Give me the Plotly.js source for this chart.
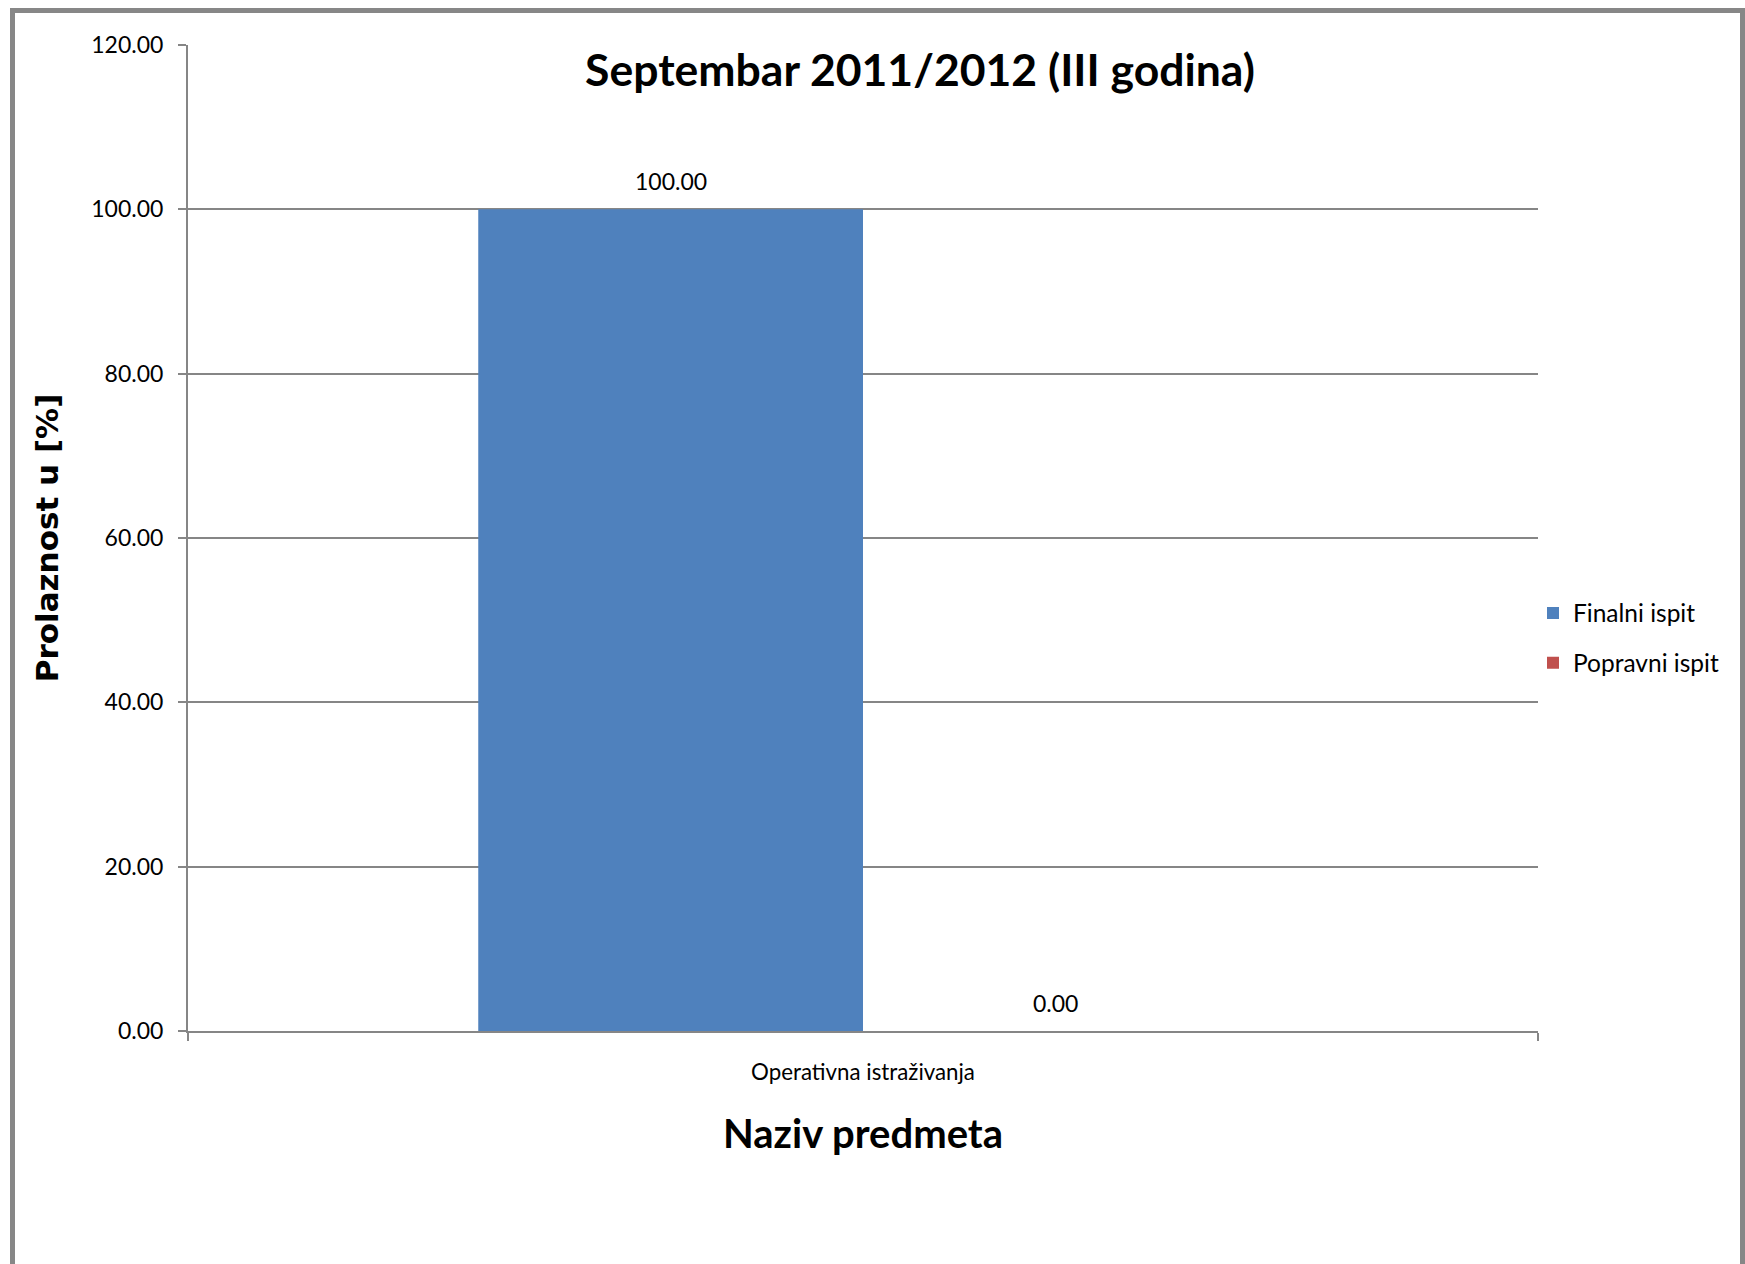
<!DOCTYPE html>
<html>
<head>
<meta charset="utf-8">
<script src="https://cdn.plot.ly/plotly-3.0.1.min.js"></script>
<style>
  html, body { margin: 0; padding: 0; background: #ffffff; }
  #chart { width: 1745px; height: 1264px; }
</style>
</head>
<body>
<div id="chart"></div>
<script>
// chart data
var categories = ["Operativna istraživanja"];
var seriesNames = ["Finalni ispit", "Popravni ispit"];
var finalniValues = [100.00];
var popravniValues = [0.00];
var seriesColors = ["#4F81BD", "#C0504D"];

var font = "Lato, 'Open Sans', sans-serif";
var bargap = 0.43;

// plot area: x 188..1538, y 45..1031
var L = 188, R = 1538, T = 45, B = 1031;
function px(x) { return (x - L) / (R - L); }
function py(y) { return (B - y) / (B - T); }

var allSeries = [finalniValues, popravniValues];

var traces = allSeries.map(function (vals, i) {
	return {
		type: 'bar',
		name: seriesNames[i],
		x: categories,
		y: vals,
		marker: { color: seriesColors[i] },
		legendgroup: 'g' + i,
		hoverinfo: 'none'
	};
});

// value labels above each bar (Excel puts them a bit higher than plotly's outside text)
var barPx = (R - L) / categories.length * (1 - bargap) / allSeries.length;
var labels = [];
allSeries.forEach(function (vals, i) {
	vals.forEach(function (v, j) {
		labels.push({
			x: categories[j],
			y: v,
			xref: 'x', yref: 'y',
			xshift: (i - (allSeries.length - 1) / 2) * barPx,
			yshift: 12,
			yanchor: 'bottom',
			text: v.toFixed(2),
			showarrow: false,
			font: { family: font, size: 23, color: '#000000' }
		});
	});
});

var layout = {
	width: 1745,
	height: 1264,
	margin: { l: L, r: 1745 - R, t: T, b: 1264 - B, pad: 0 },
	paper_bgcolor: '#ffffff',
	plot_bgcolor: '#ffffff',
	font: { family: font, color: '#000000' },
	barmode: 'group',
	bargap: bargap,
	bargroupgap: 0,
	showlegend: true,
	title: {
		text: 'Septembar 2011/2012 (III godina)',
		font: { family: font, size: 44.5, color: '#000000', weight: 'bold' },
		x: 920 / 1745,
		xanchor: 'center',
		xref: 'container',
		y: 1 - 70 / 1264,
		yanchor: 'middle',
		yref: 'container'
	},
	xaxis: {
		type: 'category',
		tickson: 'boundaries',
		ticks: 'outside',
		ticklen: 8,
		tickcolor: '#868686',
		tickwidth: 2,
		showline: true,
		linecolor: '#868686',
		linewidth: 2,
		showgrid: false,
		ticklabelstandoff: 20,
		tickfont: { family: font, size: 22.3, color: '#000000' },
		title: {
			text: 'Naziv predmeta',
			font: { family: font, size: 40, color: '#000000', weight: 'bold' },
			standoff: 36
		},
		automargin: false
	},
	yaxis: {
		range: [0, 120],
		dtick: 20,
		tick0: 0,
		tickformat: '.2f',
		ticks: 'outside',
		ticklen: 8,
		tickcolor: '#868686',
		tickwidth: 2,
		showline: true,
		linecolor: '#868686',
		linewidth: 2,
		showgrid: true,
		gridcolor: '#868686',
		gridwidth: 2,
		zeroline: false,
		ticklabelstandoff: 10,
		tickfont: { family: font, size: 23, color: '#000000' },
		title: {
			text: 'Prolaznost u [%]',
			font: { family: "'DejaVu Sans', Verdana, sans-serif", size: 31, color: '#000000', weight: 'bold' },
			standoff: 23
		},
		automargin: false
	},
	legend: {
		x: (1548 - 15 - L) / (R - L),
		xanchor: 'left',
		y: py(638),
		yanchor: 'middle',
		traceorder: 'grouped',
		tracegroupgap: 15,
		font: { family: font, size: 24.5, color: '#000000' },
		bgcolor: 'rgba(0,0,0,0)',
		borderwidth: 0
	},
	annotations: labels,
	shapes: [{
		type: 'rect',
		xref: 'paper', yref: 'paper',
		x0: px(12.5), x1: px(1742.5),
		y0: py(10.5), y1: py(1290),
		line: { color: '#878787', width: 5 },
		fillcolor: 'rgba(0,0,0,0)',
		layer: 'below'
	}]
};

Plotly.newPlot('chart', traces, layout, { staticPlot: true, displayModeBar: false });
</script>
</body>
</html>
